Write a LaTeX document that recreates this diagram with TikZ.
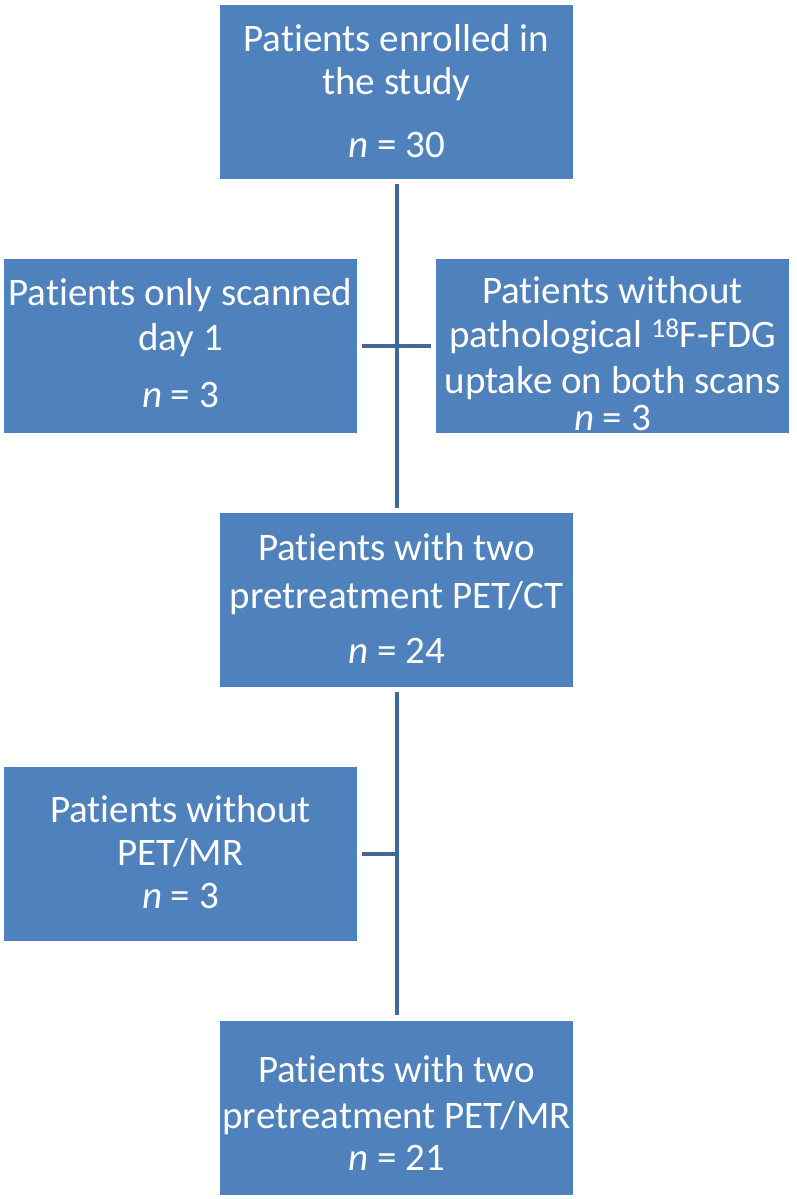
\documentclass[tikz,border=0pt]{standalone}
\usepackage{fontspec}
\setmainfont{Carlito}[Ligatures={NoCommon,NoRare,NoContextual},Contextuals={NoAlternate}]
\definecolor{boxblue}{HTML}{4F81BD}
\definecolor{linkblue}{HTML}{41679A}
\newcommand{\Pts}{Pat\kern0pt ients}
\begin{document}
\begin{tikzpicture}[x=1pt,y=-1pt,
  box/.style={rectangle,fill=boxblue,draw=none,minimum width=353pt,minimum height=174pt,inner sep=0pt},
  txt/.style={anchor=base,inner sep=0pt,text=white,font=\fontsize{39}{45}\selectfont},
  conn/.style={draw=linkblue,line width=4pt,shorten <=5pt,shorten >=5pt}]
\useasboundingbox (0,0) rectangle (796,1199);
\node[box] (top) at (396.5,92) {};
\node[box] (l1) at (180.5,346) {};
\node[box] (r1) at (612.5,346) {};
\node[box] (mid) at (396.5,600) {};
\node[box] (l2) at (180.5,854) {};
\node[box] (bot) at (396.5,1107.5) {};
\coordinate (j2) at (397,854);
% texts
\node[txt] (ta1) at (396.5,52) {\Pts{} enrolled in};
\node[txt] (ta2) at (396.5,95) {the study};
\node[txt] (ta3) at (396.5,157) {\textit{n} = 30};
\node[txt] (tb1) at (180.5,305) {\Pts{} only scanned};
\node[txt] (tb2) at (180.5,350) {day 1};
\node[txt] (tb3) at (180.5,407) {\textit{n} = 3};
\node[txt] (tc1) at (612.5,303) {\Pts{} without};
\node[txt] (tc2) at (612.5,347) {pathological \textsuperscript{18}F-FDG};
\node[txt] (tc3) at (612.5,393) {uptake on both scans};
\node[txt] (tc4) at (612.5,430) {\textit{n} = 3};
\node[txt] (td1) at (396.5,560) {\Pts{} with two};
\node[txt] (td2) at (396.5,608) {pretreatment PET/CT};
\node[txt] (td3) at (396.5,663) {\textit{n} = 24};
\node[txt] (te1) at (180.5,822) {\Pts{} without};
\node[txt] (te2) at (180.5,865) {PET/MR};
\node[txt] (te3) at (180.5,908) {\textit{n} = 3};
\node[txt] (tf1) at (396.5,1082) {\Pts{} with two};
\node[txt] (tf2) at (396.5,1128) {pretreatment PET/MR};
\node[txt] (tf3) at (396.5,1170) {\textit{n} = 21};
% connectors
\draw[conn] (top) -- (mid);
\draw[conn] (l1) -- (r1);
\draw[conn] (mid) -- (bot);
\draw[conn,shorten >=0pt] (l2) -- (j2);
\end{tikzpicture}
\end{document}
